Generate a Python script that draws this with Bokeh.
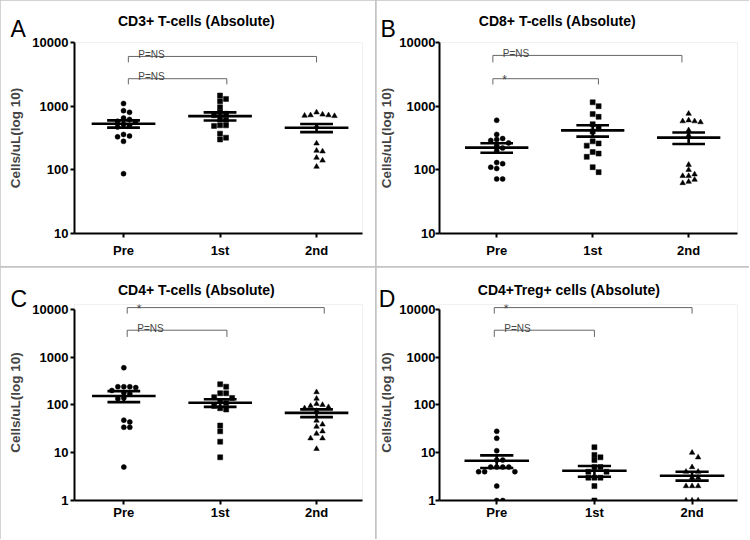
import math
from bokeh.plotting import figure
from bokeh.layouts import row, column
from bokeh.models import Range1d, FixedTicker, Label, PrintfTickFormatter
from bokeh.embed import file_html
from bokeh.resources import INLINE

groups = ["Pre", "1st", "2nd"]
markers = ["circle", "square", "triangle"]
y_label = "Cells/uL(log 10)"

# ---- Panel A: CD3+ T-cells
a_title = "CD3+ T-cells (Absolute)"
a_pre = [1100, 850, 800, 650, 620, 580, 560, 520, 500, 470, 360, 340, 330, 280, 87]
a_1st = [1470, 1300, 1200, 960, 800, 760, 720, 620, 610, 500, 500, 490, 370, 320, 300]
a_2nd = [800, 740, 720, 720, 710, 700, 480, 260, 200, 195, 155, 140, 112]
a_mean = [529, 698, 458]
a_sem = [69, 101, 67]
a_brackets = [(0.05, 2.0, 6040, 4870, "P=NS"), (0.05, 1.07, 2700, 2200, "P=NS")]

# ---- Panel B: CD8+ T-cells
b_title = "CD8+ T-cells (Absolute)"
b_pre = [600, 360, 310, 300, 290, 265, 240, 220, 200, 130, 125, 110, 105, 72, 72]
b_1st = [1150, 1000, 750, 680, 520, 450, 400, 280, 260, 240, 190, 180, 160, 110, 92]
b_2nd = [760, 600, 580, 580, 560, 420, 350, 120, 100, 85, 80, 80, 70, 65, 62]
b_mean = [223, 417, 320]
b_sem = [38, 85, 65]
b_brackets = [(-0.04, 1.93, 6270, 4870, "P=NS"), (-0.04, 1.06, 2700, 2190, "*")]

# ---- Panel C: CD4+ T-cells
c_title = "CD4+ T-cells (Absolute)"
c_pre = [600, 240, 240, 240, 230, 200, 180, 170, 140, 135, 48, 44, 34, 34, 5]
c_1st = [270, 240, 175, 175, 145, 140, 120, 110, 95, 85, 80, 37, 28, 17, 8]
c_2nd = [185, 135, 105, 100, 95, 90, 85, 75, 47, 39, 35, 28, 25, 20, 20, 12]
c_mean = [154, 111, 68]
c_sem = [40, 20, 12.5]
c_brackets = [(0.035, 2.08, 10840, 8130, "*"), (0.035, 1.07, 3650, 2640, "P=NS")]

# ---- Panel D: CD4+Treg+ cells
d_title = "CD4+Treg+ cells (Absolute)"
d_pre = [28, 20, 11, 7, 7, 5, 5, 5, 5, 4, 4, 4, 2, 1, 1]
d_1st = [13, 9, 8, 7, 5, 5, 4, 4, 3, 3, 3, 2, 1]
d_2nd = [10, 8, 5, 4, 4, 3, 3, 2, 2, 2, 1, 1, 1]
d_mean = [6.8, 4.2, 3.3]
d_sem = [2.0, 1.05, 0.7]
d_brackets = [(-0.025, 2.0, 10840, 8130, "*"), (-0.025, 1.0, 3650, 2640, "P=NS")]

ticks_ab = [10, 100, 1000, 10000]
ticks_cd = [1, 10, 100, 1000, 10000]

FONT = "Liberation Sans"


def swarm(vals, px_per_decade, step, marker_px=5.0):
    order = sorted(range(len(vals)), key=lambda k: -vals[k])
    placed = []
    offs = [0.0] * len(vals)
    cands = [0.0]
    for j in range(1, 12):
        cands += [j * step, -j * step]
    for k in order:
        yp = math.log10(vals[k]) * px_per_decade
        for c in cands:
            if all(abs(c - xo) >= step * 0.95 or abs(yp - yy) >= marker_px for yy, xo in placed):
                offs[k] = c
                placed.append((yp, c))
                break
    return offs


def panel(letter, title, series, means, sems, brackets, ticks, yr, xr, geom, lab, ystand,
          title_side, x_standoff, bounds=None):
    width, height, mbl, mbr, mbt, mbb, ppd = geom
    p = figure(width=width, height=height, x_range=Range1d(*xr), y_range=Range1d(*yr),
               y_axis_type="log", output_backend="svg", toolbar_location=None, title=None,
               min_border_left=mbl, min_border_right=mbr, min_border_top=mbt, min_border_bottom=mbb)
    p.outline_line_color = None
    p.xgrid.visible = False
    p.ygrid.visible = False
    p.background_fill_color = "white"
    p.border_fill_color = "white"

    for i, vals in enumerate(series):
        offs = swarm(vals, ppd, 0.062)
        xs = [i + o for o in offs]
        sz = {"circle": 5, "square": 5, "triangle": 5.5}[markers[i]]
        p.scatter(xs, vals, marker=markers[i], size=sz, fill_color="black", line_color="black", line_width=0.5)

    for i in range(3):
        m, s = means[i], sems[i]
        p.segment(x0=[i - 0.33], y0=[m], x1=[i + 0.33], y1=[m], line_color="black", line_width=2.6)
        p.segment(x0=[i - 0.17, i - 0.17], y0=[m + s, m - s], x1=[i + 0.17, i + 0.17], y1=[m + s, m - s],
                  line_color="black", line_width=2.6)
        p.segment(x0=[i], y0=[m - s], x1=[i], y1=[m + s], line_color="black", line_width=2.6)

    for (l, r, top, drop, txt) in brackets:
        p.multi_line(xs=[[l, l, r, r]], ys=[[drop, top, top, drop]], line_color="#666666", line_width=1)
        if txt == "*":
            lb = Label(x=l, y=top, x_offset=9.5, y_offset=-1.5, text=txt, text_font=FONT,
                       text_font_size="12px", text_color="#444444", text_baseline="alphabetic")
        else:
            lb = Label(x=l, y=top, x_offset=10, y_offset=2, text=txt, text_font=FONT,
                       text_font_size="10px", text_color="#444444", text_baseline="alphabetic")
        p.add_layout(lb)

    p.xaxis.ticker = FixedTicker(ticks=[0, 1, 2])
    p.xaxis.major_label_overrides = {0: groups[0], 1: groups[1], 2: groups[2]}
    p.yaxis.ticker = FixedTicker(ticks=ticks)
    p.yaxis.formatter = PrintfTickFormatter(format="%d")
    for ax in (p.xaxis[0], p.yaxis[0]):
        ax.axis_line_width = 2
        ax.axis_line_color = "black"
        ax.major_tick_line_width = 2
        ax.major_tick_line_color = "black"
        ax.major_tick_in = 0
        ax.major_tick_out = 4
        ax.minor_tick_line_color = None
        ax.major_label_text_font = FONT
        ax.major_label_text_font_style = "bold"
        ax.major_label_text_font_size = "13px"
        ax.major_label_text_color = "black"
    p.xaxis.major_label_standoff = x_standoff
    p.yaxis.major_label_standoff = ystand[0]
    p.yaxis.axis_label = y_label
    p.yaxis.axis_label_text_font = FONT
    p.yaxis.axis_label_text_font_style = "bold"
    p.yaxis.axis_label_text_font_size = "13.5px"
    p.yaxis.axis_label_standoff = ystand[1]
    if bounds is not None:
        p.yaxis.bounds = bounds

    lx, ly, tx, ty = lab
    p.add_layout(Label(x=lx, y=ly, x_units="canvas", y_units="canvas", text=letter, text_font=FONT,
                       text_font_size="23px", text_color="black", text_baseline="alphabetic"), "above")
    p.add_layout(Label(x=tx, y=ty, x_units="canvas", y_units="canvas", text=title, text_font=FONT,
                       text_font_size="14px", text_font_style="bold", text_color="black",
                       text_align="center", text_baseline="alphabetic"), title_side)
    return p


pA = panel("A", a_title, [a_pre, a_1st, a_2nd], a_mean, a_sem, a_brackets, ticks_ab, (10, 10000),
           (-0.508, 2.476), (375, 266, 74, 13, 41, 33, 64.0), (10, 28.3, 195.8, 20), (2, 6), "above", 5)
pB = panel("B", b_title, [b_pre, b_1st, b_2nd], b_mean, b_sem, b_brackets, ticks_ab, (10, 10000),
           (-0.596, 2.509), (373, 266, 62, 12, 41, 33, 64.0), (4, 28.3, 180.7, 20), (0, 2), "above", 5)
pC = panel("C", c_title, [c_pre, c_1st, c_2nd], c_mean, c_sem, c_brackets, ticks_cd, (1, 10 ** 4.1),
           (-0.512, 2.477), (375, 272, 74, 13, 37, 39, 47.9), (10, 31.3, 195.8, 22), (2, 6), "below", 0,
           bounds=(1, 10000))
pD = panel("D", d_title, [d_pre, d_1st, d_2nd], d_mean, d_sem, d_brackets, ticks_cd, (1, 10 ** 4.1),
           (-0.586, 2.465), (373, 272, 62, 12, 37, 39, 47.9), (2.3, 31.3, 192.3, 22), (0, 2), "below", 0,
           bounds=(1, 10000))

top = row(pA, pB, spacing=1)
bottom = row(pC, pD, spacing=1)
layout = column(top, bottom, spacing=1, styles={"background-color": "#c4c4c4"})
open("out.html", "w").write(file_html(layout, INLINE))
